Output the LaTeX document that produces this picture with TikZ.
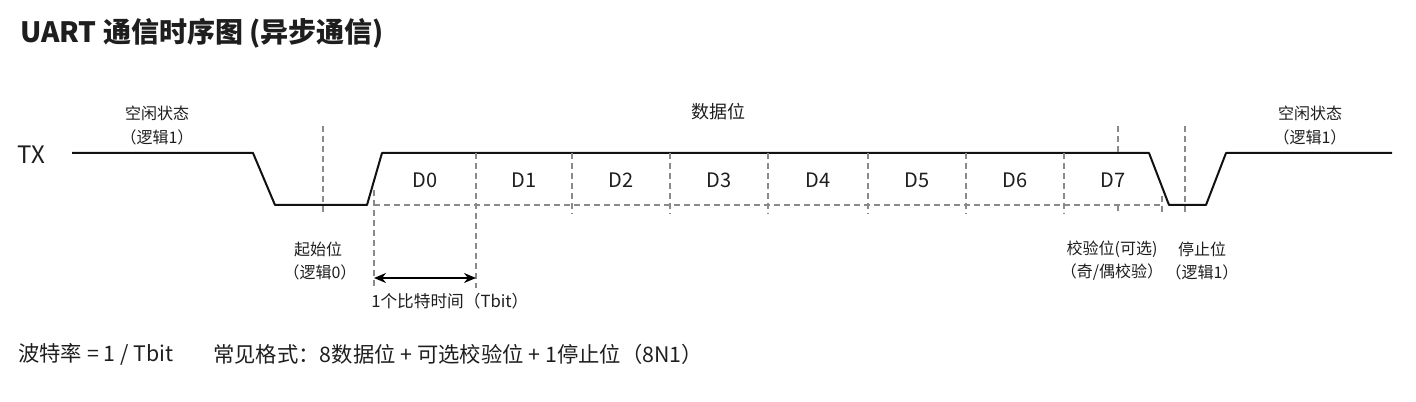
\documentclass[tikz,border=0pt]{standalone}
\usepackage{fontspec}
\setmainfont{Noto Sans CJK SC}
\usetikzlibrary{arrows.meta,positioning,calc}
\definecolor{sigblack}{HTML}{111111}
\definecolor{guidegray}{HTML}{8A8A8A}
\definecolor{inkgray}{HTML}{1E1E1E}

\begin{document}
\begin{tikzpicture}[
    x=0.75pt, y=-0.75pt,
    lbl/.style={inner sep=0pt, text=inkgray, font=\fontsize{12}{14}\selectfont},
    bitlbl/.style={inner sep=0pt, text=inkgray, font=\fontsize{15}{18}\selectfont},
    note/.style={inner sep=0pt, anchor=west, text=inkgray, font=\fontsize{16}{19}\selectfont},
    wave/.style={draw=sigblack, line width=1.5pt, line join=round},
    guide/.style={draw=guidegray, line width=0.8pt, dash pattern=on 4.5pt off 3pt},
    arrow/.style={{Stealth[length=9pt,width=7.5pt]}-{Stealth[length=9pt,width=7.5pt]}, line width=1.1pt}
]
    \useasboundingbox (0,0) rectangle (1416,402);

    \node[anchor=west, inner sep=0pt, text=inkgray, font=\bfseries\fontsize{21}{25}\selectfont] (title) at (20,33) {UART 通信时序图 (异步通信)};
    \node[inner sep=0pt, text=inkgray, font=\fontsize{18}{21}\selectfont] (tx) at (31,155) {TX};

    % rows
    \coordinate (rtop) at (0,126);
    \coordinate (rhigh) at (0,153);
    \coordinate (rlow) at (0,205);
    \coordinate (rbot) at (0,214);
    \coordinate (rarr) at (0,278);
    \coordinate (rarrbot) at (0,288);

    % TX line
    \coordinate (idle0) at (72,153);
    \coordinate (fall0) at (253,153);
    \coordinate (low0) at (275,205);
    \coordinate (low1) at (367,205);
    \coordinate (high0) at (382,153);
    \coordinate (high1) at (1149,153);
    \coordinate (low2) at (1169,205);
    \coordinate (low3) at (1206,205);
    \coordinate (high2) at (1226,153);
    \coordinate (idle1) at (1392,153);
    \draw[wave] (idle0) -- (fall0) -- (low0) -- (low1) -- (high0) -- (high1)
        -- (low2) -- (low3) -- (high2) -- (idle1);

    % bit boundaries
    \foreach \x [count=\i from 0] in {374,476,572,670,768,868,966,1064,1162}
        \coordinate (b\i) at (\x,205);
    \foreach \i [evaluate=\i as \j using int(\i+1)] in {0,...,7}
        \node[bitlbl] (d\i) at ($(b\i)!0.5!(b\j)+(0,-25)$) {D\i};

    \coordinate (startx) at (323,126);
    \coordinate (parityx) at (1118,126);
    \coordinate (stopx) at (1185,126);

    \draw[guide] (b0) -- (b8);
    \draw[guide] (startx) -- (startx |- rbot);
    \draw[guide] (parityx) -- (parityx |- rhigh);
    \draw[guide] (parityx |- rlow) -- (parityx |- rbot);
    \draw[guide] (stopx) -- (stopx |- rbot);
    \draw[guide] ($(b0)+(0,-15)$) -- (b0 |- rarrbot);
    \draw[guide] (b1 |- rhigh) -- (b1 |- rarrbot);
    \foreach \i in {2,...,7}
        \draw[guide] (b\i |- rhigh) -- (b\i |- rbot);
    \draw[guide] ($(b8)+(0,-9)$) -- (b8 |- rbot);

    \draw[arrow] (b0 |- rarr) -- (b1 |- rarr);

    \node[lbl] (idleL) at (157,113) {空闲状态};
    \node[lbl] (idleLsub) at (157,137) {（逻辑1）};
    \node[lbl, font=\fontsize{13.5}{16}\selectfont] (datalbl) at (718,112) {数据位};
    \node[lbl] (idleR) at (1310,113) {空闲状态};
    \node[lbl] (idleRsub) at (1310,137) {（逻辑1）};
    \node[lbl] (startlbl) at (318,249) {起始位};
    \node[lbl] (startsub) at (320,272) {（逻辑0）};
    \node[lbl] (paritylbl) at (1112,249) {校验位(可选)};
    \node[lbl] (paritysub) at (1112,272) {（奇/偶校验）};
    \node[lbl] (stoplbl) at (1202,249) {停止位};
    \node[lbl] (stopsub) at (1202,272) {（逻辑1）};
    \node[lbl, anchor=west, font=\fontsize{12.5}{15}\selectfont] (tbitlbl) at (371,301) {1个比特时间（Tbit）};

    \node[note] (baud) at (18,354) {波特率 = 1 / Tbit};
    \node[note] (fmt) at (213,354) {常见格式：8数据位 + 可选校验位 + 1停止位（8N1）};
\end{tikzpicture}
\end{document}
